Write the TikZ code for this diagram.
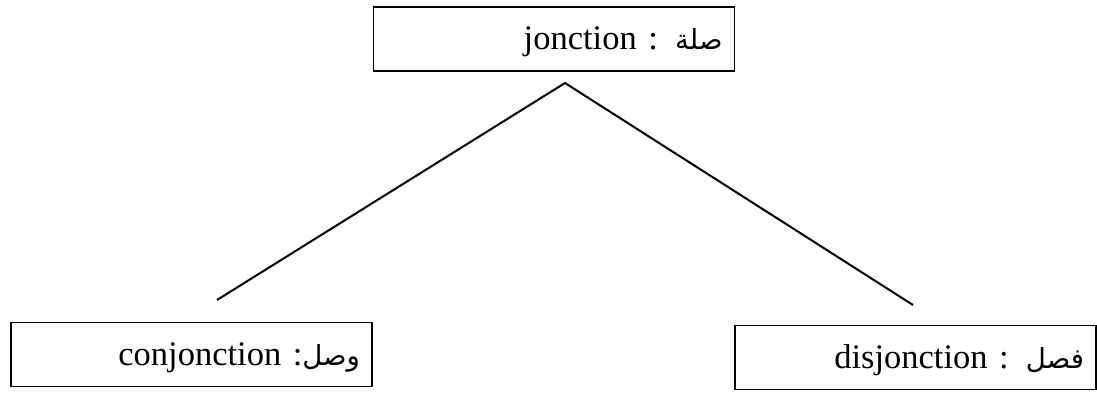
\documentclass[tikz,border=0pt]{standalone}
\usepackage{fontspec}
\setmainfont{Liberation Serif}
\newfontfamily\arabicfont[Script=Arabic,Scale=0.8]{DejaVu Sans}
\TeXXeTstate=1
\begin{document}
\begin{tikzpicture}[x=1pt,y=-1pt,
  term/.style={draw, line width=1.4pt, inner xsep=12pt, inner ysep=0pt,
    text width=337pt, align=right, font=\fontsize{34.5}{40}\selectfont,
    text height=43pt, text depth=21pt},
  link/.style={line width=2pt}]
\useasboundingbox (0,0) rectangle (1097,395);
% terms
\node[term] (jonc) at (554,39) {jonction : {\arabicfont\beginR صلة\endR}};
\node[term] (conj) at (191.5,354.5) {conjonction :{\arabicfont\beginR وصل\endR}};
\node[term] (disj) at (915.5,357.5) {disjonction : {\arabicfont\beginR فصل\endR}};
% branch ends
\coordinate (apex) at (565,83);
\coordinate (lend) at (217,300);
\coordinate (rend) at (913,305);
\draw[link] (lend) -- (apex) -- (rend);
\end{tikzpicture}
\end{document}
